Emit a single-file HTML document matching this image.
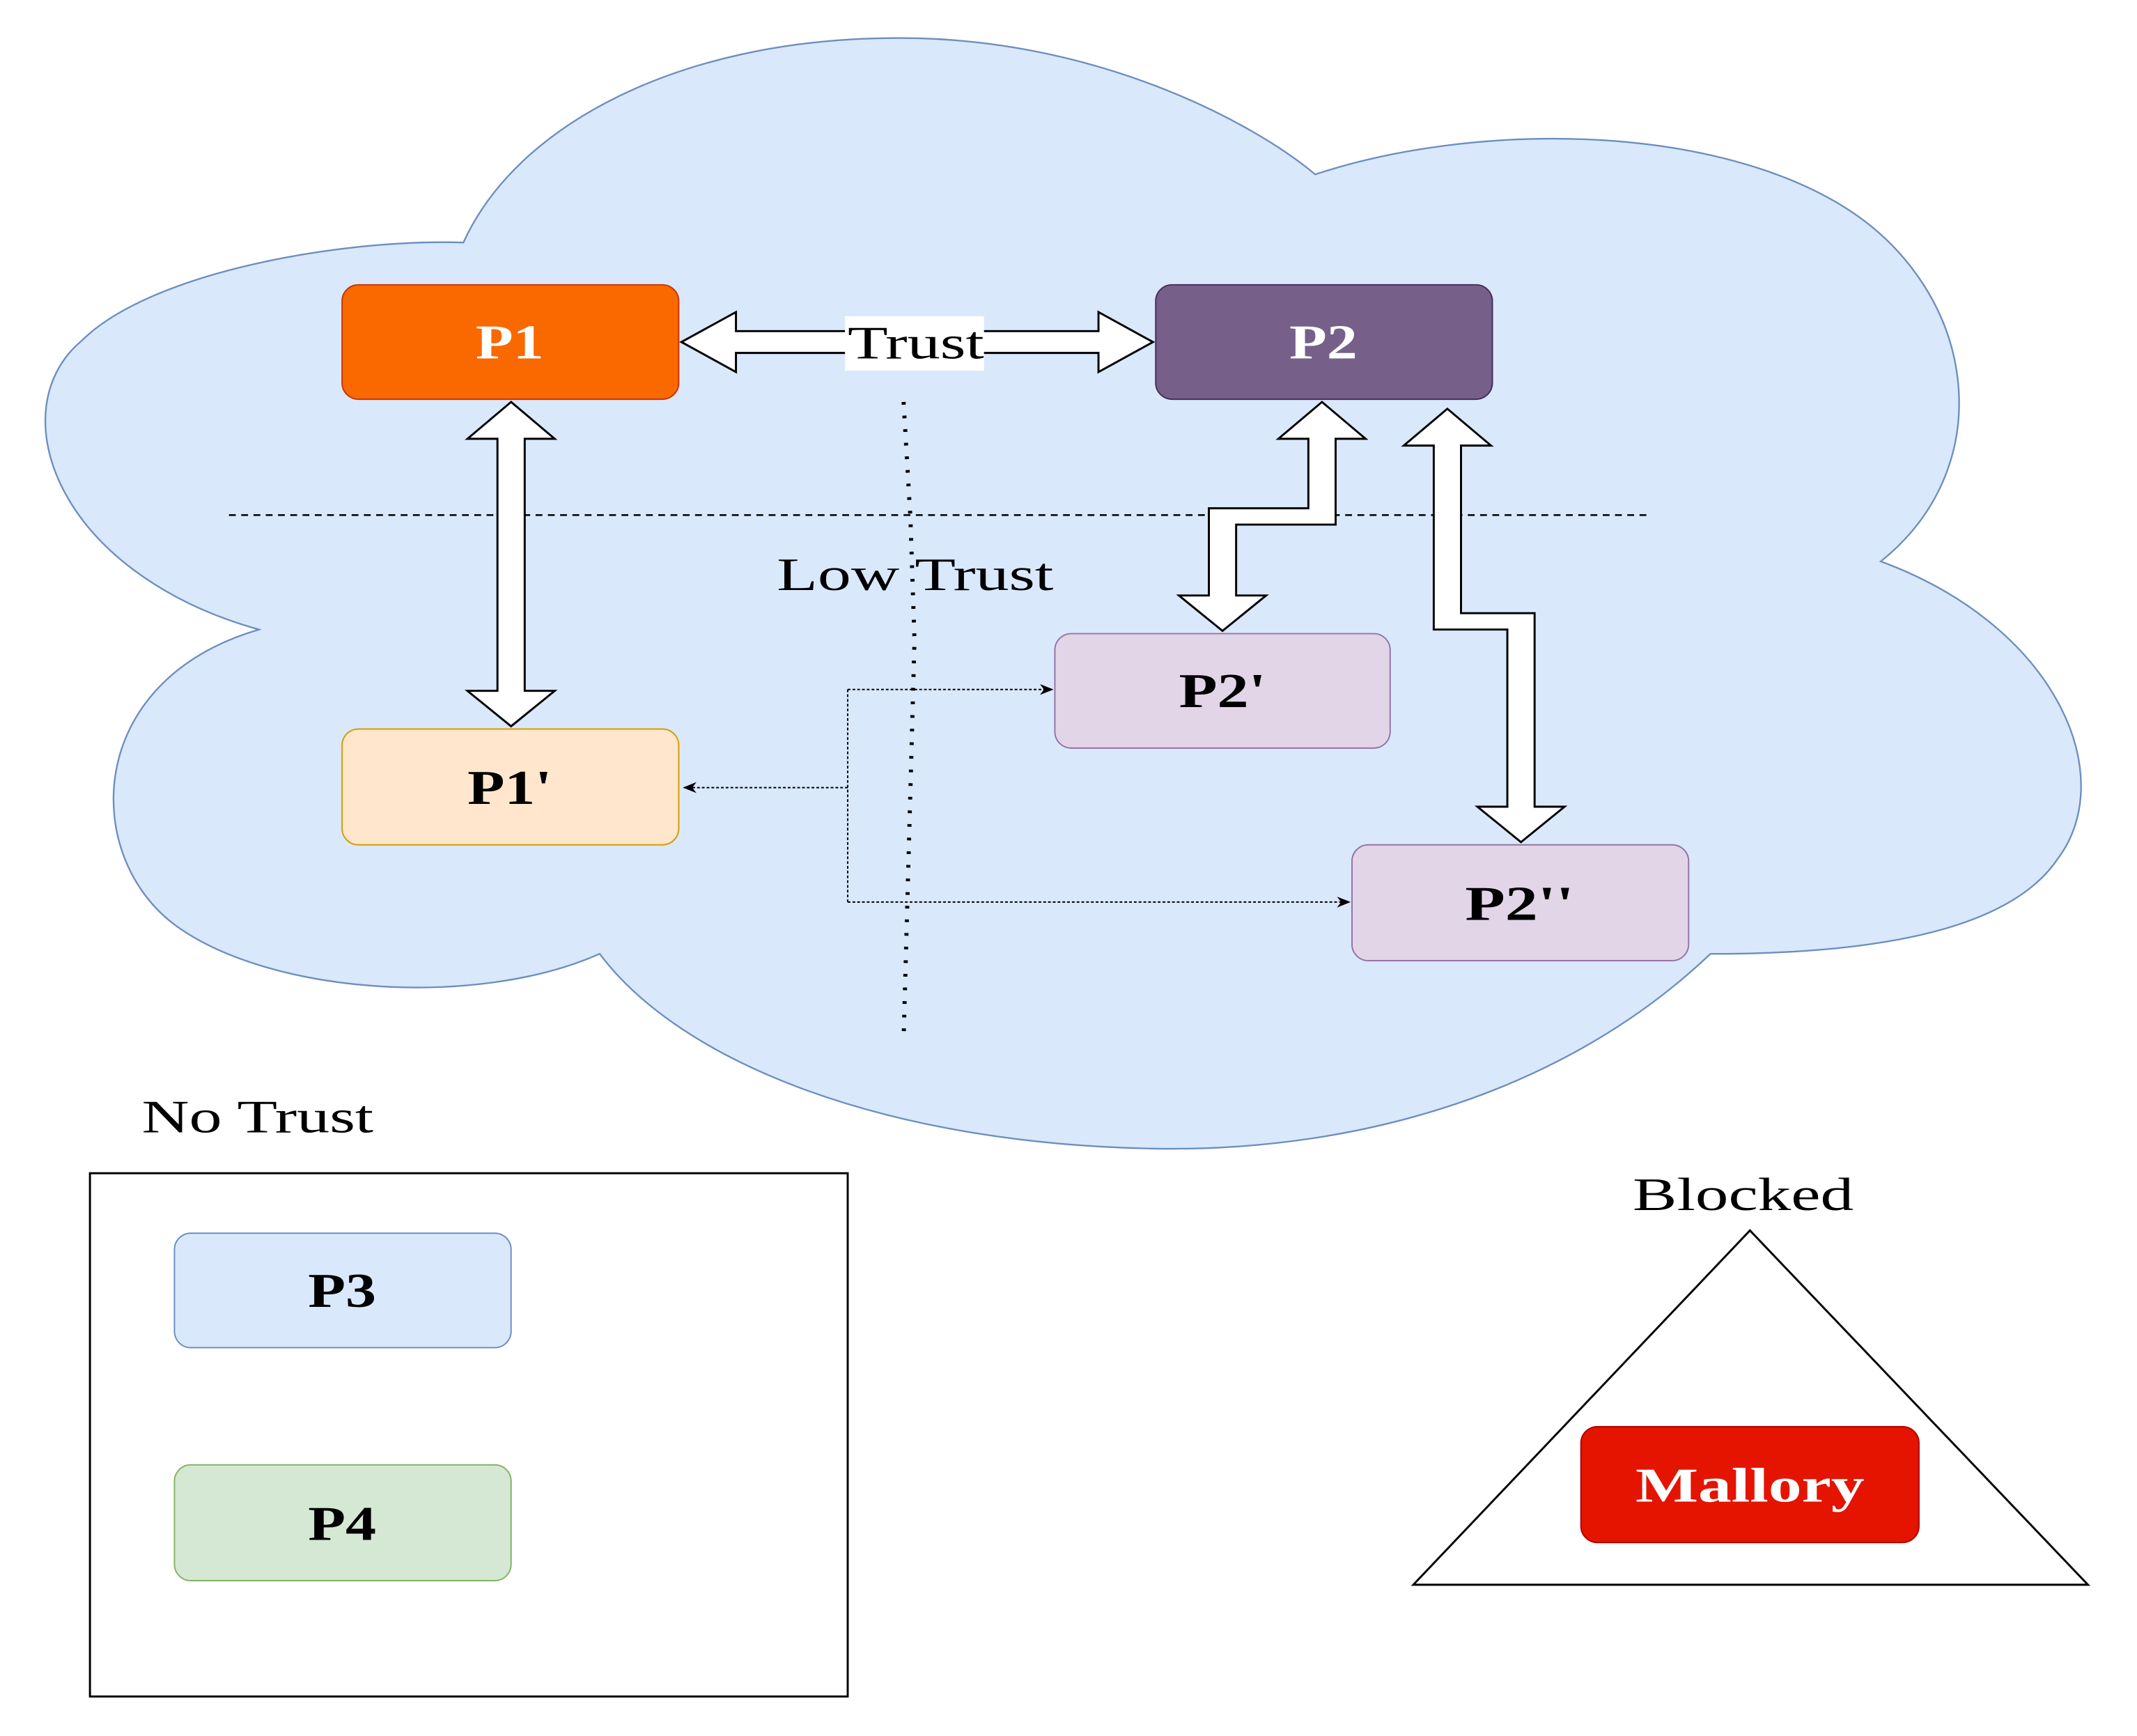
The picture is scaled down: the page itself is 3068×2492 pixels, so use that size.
<!DOCTYPE html>
<html><head><meta charset="utf-8"><style>html,body{margin:0;padding:0;background:#fff}svg{display:block}</style></head>
<body>
<svg width="3068" height="2492" viewBox="0 0 1568 1274" preserveAspectRatio="none" xmlns="http://www.w3.org/2000/svg" font-family="'Liberation Serif',serif">
<defs>
<marker id="ah" markerWidth="10" markerHeight="10" refX="9" refY="5" orient="auto" markerUnits="userSpaceOnUse"><path d="M0,1 L10,5 L0,9 L3,5 Z" fill="#000"/></marker>
</defs>
<path d="M190,462 C40,420 0,300 60,250 C110,200 250,175 340,178 C380,90 500,30 650,28 C800,25 920,90 965,128 C1080,90 1250,90 1350,150 C1450,210 1470,340 1380,412 C1510,460 1555,570 1510,630 C1470,690 1350,700 1255,700 C1150,800 1000,845 850,843 C650,840 500,780 440,700 C350,740 200,730 130,680 C60,630 60,500 190,462 Z" fill="#dae8fc" stroke="#6c8ebf" stroke-width="1.2"/>
<line x1="168" y1="378" x2="1212" y2="378" stroke="#000" stroke-width="1.3" stroke-dasharray="5,4"/>
<polyline points="663,295 668,380 671,470 663,763" fill="none" stroke="#000" stroke-width="3" stroke-dasharray="2,8"/>
<g fill="#fff" stroke="#000" stroke-width="1.5">
<polygon points="375,295 407,322 385,322 385,507 407,507 375,533 343,507 365,507 365,322 343,322"/>
<polygon points="500,251 540,229 540,243 806,243 806,229 846,251 806,273 806,259 540,259 540,273"/>
<polygon points="970,295 1002,322 980,322 980,385 907,385 907,437 929,437 897,463 865,437 887,437 887,373 960,373 960,322 938,322"/>
<polygon points="1062,300 1094,327 1072,327 1072,450 1126,450 1126,592 1148,592 1116,618 1084,592 1106,592 1106,462 1052,462 1052,327 1030,327"/>
</g>
<rect x="620" y="232" width="102" height="40" fill="#fff"/>
<text x="622" y="263" font-size="34" textLength="100" lengthAdjust="spacingAndGlyphs">Trust</text>
<text x="570" y="433" font-size="34" textLength="203" lengthAdjust="spacingAndGlyphs">Low Trust</text>
<g fill="none" stroke="#000" stroke-width="1" stroke-dasharray="2,1.5">
<line x1="622" y1="578" x2="502" y2="578" marker-end="url(#ah)"/>
<line x1="622" y1="506" x2="622" y2="662"/>
<line x1="622" y1="506" x2="772" y2="506" marker-end="url(#ah)"/>
<line x1="622" y1="662" x2="990" y2="662" marker-end="url(#ah)"/>
</g>
<g font-weight="bold" font-size="36" text-anchor="middle">
<rect x="251" y="209" width="247" height="84" rx="12" fill="#fa6800" stroke="#c73500"/>
<text x="374" y="263" fill="#fff" textLength="50" lengthAdjust="spacingAndGlyphs">P1</text>
<rect x="848" y="209" width="247" height="84" rx="12" fill="#76608a" stroke="#432d57"/>
<text x="971" y="263" fill="#fff" textLength="50" lengthAdjust="spacingAndGlyphs">P2</text>
<rect x="251" y="535" width="247" height="85" rx="12" fill="#ffe6cc" stroke="#d79b00"/>
<text x="374" y="590" textLength="62" lengthAdjust="spacingAndGlyphs">P1'</text>
<rect x="774" y="465" width="246" height="84" rx="12" fill="#e1d5e7" stroke="#9673a6"/>
<text x="897" y="519" textLength="64" lengthAdjust="spacingAndGlyphs">P2'</text>
<rect x="992" y="620" width="247" height="85" rx="12" fill="#e1d5e7" stroke="#9673a6"/>
<text x="1115" y="675" textLength="80" lengthAdjust="spacingAndGlyphs">P2''</text>
<rect x="66" y="861" width="556" height="384" fill="#fff" stroke="#000" stroke-width="1.5"/>
<rect x="128" y="905" width="247" height="84" rx="12" fill="#dae8fc" stroke="#6c8ebf"/>
<text x="251" y="959" textLength="50" lengthAdjust="spacingAndGlyphs">P3</text>
<rect x="128" y="1075" width="247" height="85" rx="12" fill="#d5e8d4" stroke="#82b366"/>
<text x="251" y="1130" textLength="50" lengthAdjust="spacingAndGlyphs">P4</text>
<polygon points="1284,903 1037,1163 1532,1163" fill="#fff" stroke="#000" stroke-width="1.5"/>
<rect x="1160" y="1047" width="248" height="85" rx="12" fill="#e51400" stroke="#b20000"/>
<text x="1284" y="1102" fill="#fff" textLength="168" lengthAdjust="spacingAndGlyphs">Mallory</text>
</g>
<text x="104" y="831" font-size="34" textLength="170" lengthAdjust="spacingAndGlyphs">No Trust</text>
<text x="1198" y="888" font-size="34" textLength="162" lengthAdjust="spacingAndGlyphs">Blocked</text>
</svg>
</body></html>
